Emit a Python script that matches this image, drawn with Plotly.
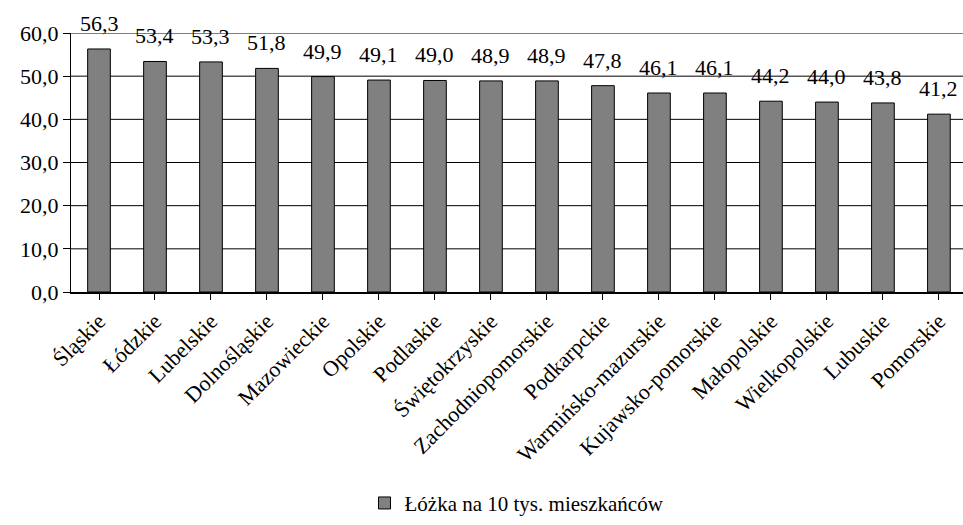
import plotly.graph_objects as go

# Hospital beds per 10k inhabitants by voivodeship
regions = ["Śląskie", "Łódzkie", "Lubelskie", "Dolnośląskie", "Mazowieckie", "Opolskie",
           "Podlaskie", "Świętokrzyskie", "Zachodniopomorskie", "Podkarpckie",
           "Warmińsko-mazurskie", "Kujawsko-pomorskie", "Małopolskie", "Wielkopolskie",
           "Lubuskie", "Pomorskie"]
beds = [56.3, 53.4, 53.3, 51.8, 49.9, 49.1, 49.0, 48.9, 48.9, 47.8, 46.1, 46.1, 44.2, 44.0, 43.8, 41.2]
series_name = "Łóżka na 10 tys. mieszkańców"
y_ticks = [0, 10, 20, 30, 40, 50, 60]

FONT = "Times New Roman"
x_span = [-0.5, 15.43]
xs = list(range(len(regions)))

fig = go.Figure(go.Bar(
    x=xs,
    y=beds,
    name=series_name,
    marker=dict(color="#808080", line=dict(color="black", width=1)),
    showlegend=True,
    hoverinfo="x+y",
))

# value labels above each bar, Polish decimal comma
for x, v in zip(xs, beds):
    fig.add_annotation(x=x, y=v, xref="x", yref="y", text=f"{v:.1f}".replace(".", ","),
                       showarrow=False, yanchor="bottom", yshift=11,
                       font=dict(family=FONT, size=22, color="black"))

# horizontal gridlines behind the bars
for v in y_ticks[1:]:
    fig.add_shape(type="line", xref="x", yref="y", x0=x_span[0], x1=x_span[1], y0=v, y1=v,
                  line=dict(color="black", width=1), layer="below")

fig.update_layout(
    template="none",
    width=963, height=525,
    margin=dict(l=71, r=0, t=33, b=233),
    paper_bgcolor="white", plot_bgcolor="rgba(0,0,0,0)",
    separators=", ",
    bargap=0.595,
    font=dict(family=FONT, size=21, color="black"),
    legend=dict(orientation="h", x=0.5, xanchor="center", y=-0.895, yanchor="bottom",
                font=dict(family=FONT, size=21, color="black"),
                itemwidth=30, tracegroupgap=0),
)

fig.update_xaxes(
    tickmode="array", tickvals=xs, ticktext=regions,
    range=x_span, tickangle=-45, tickson="boundaries",
    ticks="outside", ticklen=6, tickcolor="black", tickwidth=1,
    showline=True, linecolor="black", linewidth=1.5, showgrid=False, zeroline=False,
    tickfont=dict(family=FONT, size=22, color="black"),
)
fig.update_yaxes(
    tickmode="array", range=[0, 60], tickvals=y_ticks, tickformat=".1f",
    ticks="outside", ticklen=7, tickcolor="black", tickwidth=1,
    showline=True, linecolor="black", linewidth=1,
    showgrid=False, zeroline=False,
    tickfont=dict(family=FONT, size=22, color="black"),
)

fig.write_html("out.html")
